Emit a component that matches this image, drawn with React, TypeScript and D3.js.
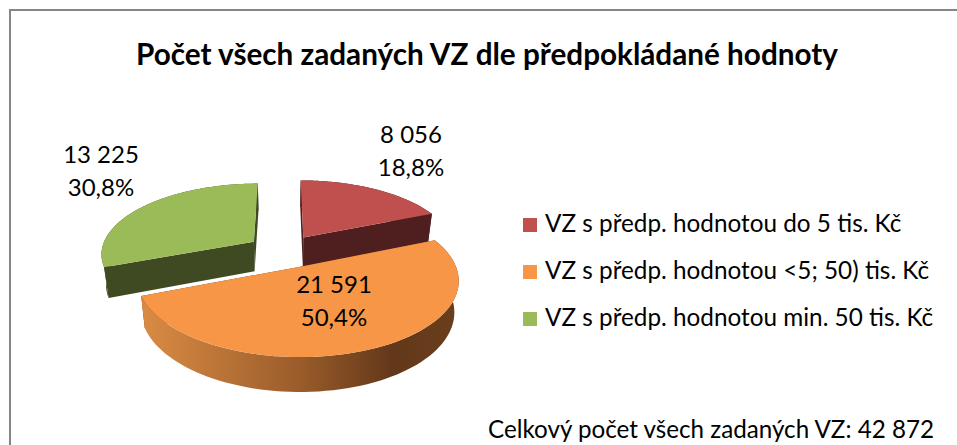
import * as d3 from 'd3';

const chartTitle = 'Počet všech zadaných VZ dle předpokládané hodnoty';
const footnote = 'Celkový počet všech zadaných VZ: 42 872';
const categories = [
  'VZ s předp. hodnotou do 5 tis. Kč',
  'VZ s předp. hodnotou <5; 50) tis. Kč',
  'VZ s předp. hodnotou min. 50 tis. Kč',
];
const counts = [8056, 21591, 13225];
const topColors = ['#c0504d', '#f79646', '#9bbb59'];
const wallColors = ['#4f1f20', '#6a3c1c', '#3f4a22'];

const width = 957;
const height = 445;

// fake perspective, fitted by eye against the picture
const camera = { x0: 283.5, y0: 251, fx: 153, fy: 70, k: 0.158, depth: 30, shrink: 0.975 };
const explode = 0.24;

const labelAnchors = [
  { x: 411, y: 143 },
  { x: 334, y: 293 },
  { x: 101, y: 163 },
];
const legendX = 523;
const legendRows = d3.scalePoint<number>().domain([0, 1, 2]).range([225, 319]);

const locale = d3.formatLocale({ decimal: ',', thousands: ' ', grouping: [3], currency: ['', ' Kč'] });
const fmtCount = locale.format(',d');
const fmtPct = locale.format('.1%');

const total = d3.sum(counts);
const arcs = d3.pie<number>().sort(null)(counts);

type Pt = [number, number];

// ground coordinates (u right, v away from viewer), z=1 is the bottom plane
function project(u: number, v: number, z: number): Pt {
  const s = 1 / (1 + camera.k * v);
  const shrink = z ? camera.shrink : 1;
  return [
    camera.x0 + camera.fx * u * s * shrink,
    camera.y0 - camera.fy * v * s + z * camera.depth * Math.pow(s, 0.7),
  ];
}

const line = d3.line<Pt>();

function rimPoints(a: d3.PieArcDatum<number>, z: number): Pt[] {
  const mid = (a.startAngle + a.endAngle) / 2;
  const ox = Math.sin(mid) * explode;
  const oy = Math.cos(mid) * explode;
  return d3.range(0, 81).map((i) => {
    const t = a.startAngle + ((a.endAngle - a.startAngle) * i) / 80;
    return project(ox + Math.sin(t), oy + Math.cos(t), z);
  });
}

function apex(a: d3.PieArcDatum<number>, z: number): Pt {
  const mid = (a.startAngle + a.endAngle) / 2;
  return project(Math.sin(mid) * explode, Math.cos(mid) * explode, z);
}

function Slice({ a, i }: { a: d3.PieArcDatum<number>; i: number }) {
  const top = rimPoints(a, 0);
  const bottom = rimPoints(a, 1);
  const center = apex(a, 0);
  const centerB = apex(a, 1);
  const face = [center, ...top];
  const startWall = [center, top[0], bottom[0], centerB];
  const endWall = [center, top[80], bottom[80], centerB];
  const outer = [...top, ...bottom.slice().reverse()];
  const outerFill = i === 1 ? 'url(#orangeWall)' : wallColors[i];
  return (
    <g>
      <path d={line(startWall) + 'Z'} fill={wallColors[i]} />
      <path d={line(endWall) + 'Z'} fill={wallColors[i]} />
      <path d={line(outer) + 'Z'} fill={outerFill} />
      <path d={line(face) + 'Z'} fill={topColors[i]} />
    </g>
  );
}

export default function App() {
  // red and green sit behind the orange slice
  const order = [0, 2, 1];
  return (
    <svg
      width={width}
      height={height}
      viewBox={`0 0 ${width} ${height}`}
      style={{ position: 'absolute', left: 0, top: 0, fontFamily: 'Lato, sans-serif' }}
    >
      <defs>
        <linearGradient id="orangeWall" gradientUnits="userSpaceOnUse" x1="147" y1="0" x2="453" y2="0">
          <stop offset="0" stopColor="#d88a44" />
          <stop offset="0.5" stopColor="#9a5c2a" />
          <stop offset="0.8" stopColor="#63381a" />
          <stop offset="1" stopColor="#6a3e1c" />
        </linearGradient>
      </defs>
      <rect width={width} height={height} fill="#fff" />
      <path d={`M${width + 5},10H10V${height + 5}`} fill="none" stroke="#868686" strokeWidth={2} />
      <text x={487} y={65} textAnchor="middle" fontSize={29.7} fontWeight={700} fill="#000">
        {chartTitle}
      </text>

      {order.map((i) => (
        <Slice key={i} a={arcs[i]} i={i} />
      ))}

      {counts.map((c, i) => (
        <text key={i} x={labelAnchors[i].x} textAnchor="middle" fontSize={24} fill="#000">
          <tspan x={labelAnchors[i].x} y={labelAnchors[i].y}>{fmtCount(c)}</tspan>
          <tspan x={labelAnchors[i].x} y={labelAnchors[i].y + 33}>{fmtPct(c / total)}</tspan>
        </text>
      ))}

      {categories.map((name, i) => (
        <g key={name} transform={`translate(${legendX},${legendRows(i)})`}>
          <rect x={0} y={-7} width={14} height={14} fill={topColors[i]} />
          <text x={22} y={7} fontSize={24.3} fill="#000">{name}</text>
        </g>
      ))}

      <text x={934} y={438} textAnchor="end" fontSize={24.2} fill="#000">{footnote}</text>
    </svg>
  );
}
